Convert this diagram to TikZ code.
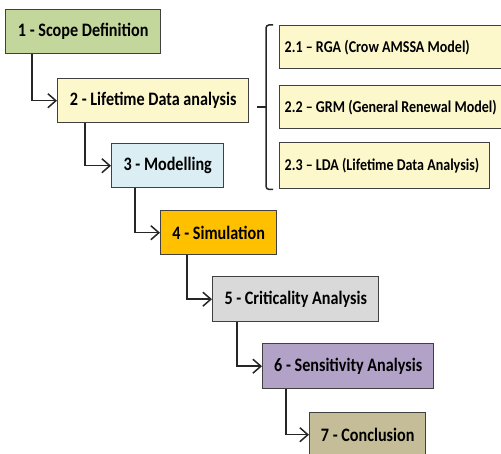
\documentclass[tikz,border=0pt]{standalone}
\usepackage{fontspec}
\setmainfont{Carlito}[FakeStretch=0.85]
\usetikzlibrary{arrows.meta}
\definecolor{scopegreen}{HTML}{C3D69B}
\definecolor{paleyellow}{HTML}{FCF8CC}
\definecolor{paleblue}{HTML}{DAEEF3}
\definecolor{simorange}{HTML}{FFC000}
\definecolor{critgray}{HTML}{D9D9D9}
\definecolor{senspurple}{HTML}{B3A2C7}
\definecolor{conckhaki}{HTML}{C4BD97}
\definecolor{framegray}{HTML}{404040}
\tikzstyle{stage} = [rectangle, minimum height=44pt, text centered, inner xsep=4pt, draw=framegray, line width=1.4pt, anchor=north west, font=\fontsize{19}{22}\selectfont\bfseries]
\tikzstyle{method} = [stage, fill=paleyellow, align=flush left, inner xsep=5pt, font=\fontsize{16.5}{19}\selectfont\bfseries]
\tikzstyle{arrow} = [line width=1.5pt, draw=black!85, -{Straight Barb[length=8pt, width=14pt, line width=1.5pt]}]
\tikzstyle{bracket} = [line width=1.5pt, draw=black!85, rounded corners=3pt]

\begin{document}
\begin{tikzpicture}[x=1pt, y=-1pt]
    \clip (0,0) rectangle (501,454);
    \node (s1) [stage, fill=scopegreen, minimum width=155pt] at (5,9) {1 - Scope Definition};
    \node (s2) [stage, fill=paleyellow, minimum width=191pt] at (57,78) {2 - Lifetime Data analysis};
    \node (s3) [stage, fill=paleblue, minimum width=112pt] at (111,143) {3 - Modelling};
    \node (s4) [stage, fill=simorange, minimum width=116pt] at (160,210) {4 - Simulation};
    \node (s5) [stage, fill=critgray, minimum width=166pt, minimum height=45pt] at (212,276) {5 - Criticality Analysis};
    \node (s6) [stage, fill=senspurple, minimum width=171pt, minimum height=45pt] at (262,343) {6 - Sensitivity Analysis};
    \node (s7) [stage, fill=conckhaki, minimum width=116pt] at (309,412) {7 - Conclusion};

    \node (m1) [method, text width=231pt, minimum height=43pt] at (279,25) {2.1 -- RGA (Crow AMSSA Model)};
    \node (m2) [method, text width=231pt, minimum height=43pt] at (279,85) {2.2 -- GRM (General Renewal Model)};
    \node (m3) [method, text width=200pt, minimum height=46pt] at (279,142) {2.3 -- LDA (Lifetime Data Analysis)};

    \draw [arrow] ([xshift=27pt]s1.south west) |- (s2.west);
    \draw [arrow] ([xshift=28pt]s2.south west) |- (s3.west);
    \draw [arrow] ([xshift=24pt]s3.south west) |- (s4.west);
    \draw [arrow] ([xshift=27pt]s4.south west) |- (s5.west);
    \draw [arrow] ([xshift=25pt]s5.south west) |- (s6.west);
    \draw [arrow] ([xshift=24pt]s6.south west) |- (s7.west);

    \draw [bracket] ([xshift=-6pt]m1.north west) -| ([xshift=-13pt]m2.west) |- ([xshift=-6pt]m3.south west);
    \draw [bracket] ([xshift=-13pt]m2.west) -- ++(-9pt,0);
\end{tikzpicture}
\end{document}
